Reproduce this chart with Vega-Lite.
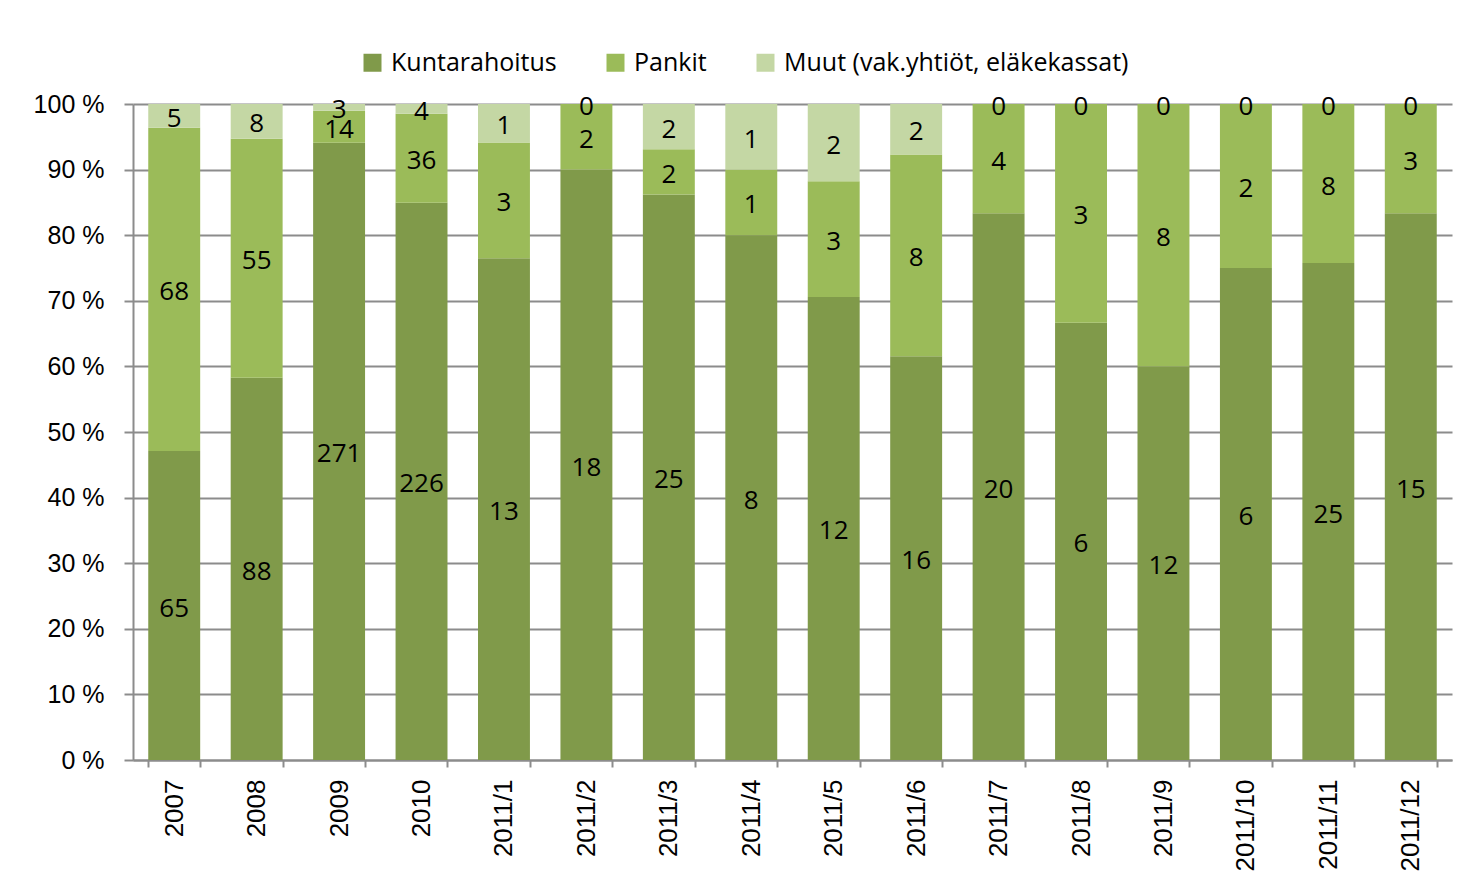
{
  "$schema": "https://vega.github.io/schema/vega-lite/v6.json",
  "width": 1319,
  "height": 656,
  "autosize": "none",
  "padding": {"left": 133, "top": 104, "right": 22, "bottom": 131},
  "background": "white",
  "config": {"view": {"stroke": null}},
  "data": {
    "values": [
      {"kausi": "2007", "sarja": "Kuntarahoitus", "arvo": 65},
      {"kausi": "2007", "sarja": "Pankit", "arvo": 68},
      {"kausi": "2007", "sarja": "Muut (vak.yhtiöt,  eläkekassat)", "arvo": 5},
      {"kausi": "2008", "sarja": "Kuntarahoitus", "arvo": 88},
      {"kausi": "2008", "sarja": "Pankit", "arvo": 55},
      {"kausi": "2008", "sarja": "Muut (vak.yhtiöt,  eläkekassat)", "arvo": 8},
      {"kausi": "2009", "sarja": "Kuntarahoitus", "arvo": 271},
      {"kausi": "2009", "sarja": "Pankit", "arvo": 14},
      {"kausi": "2009", "sarja": "Muut (vak.yhtiöt,  eläkekassat)", "arvo": 3},
      {"kausi": "2010", "sarja": "Kuntarahoitus", "arvo": 226},
      {"kausi": "2010", "sarja": "Pankit", "arvo": 36},
      {"kausi": "2010", "sarja": "Muut (vak.yhtiöt,  eläkekassat)", "arvo": 4},
      {"kausi": "2011/1", "sarja": "Kuntarahoitus", "arvo": 13},
      {"kausi": "2011/1", "sarja": "Pankit", "arvo": 3},
      {"kausi": "2011/1", "sarja": "Muut (vak.yhtiöt,  eläkekassat)", "arvo": 1},
      {"kausi": "2011/2", "sarja": "Kuntarahoitus", "arvo": 18},
      {"kausi": "2011/2", "sarja": "Pankit", "arvo": 2},
      {"kausi": "2011/2", "sarja": "Muut (vak.yhtiöt,  eläkekassat)", "arvo": 0},
      {"kausi": "2011/3", "sarja": "Kuntarahoitus", "arvo": 25},
      {"kausi": "2011/3", "sarja": "Pankit", "arvo": 2},
      {"kausi": "2011/3", "sarja": "Muut (vak.yhtiöt,  eläkekassat)", "arvo": 2},
      {"kausi": "2011/4", "sarja": "Kuntarahoitus", "arvo": 8},
      {"kausi": "2011/4", "sarja": "Pankit", "arvo": 1},
      {"kausi": "2011/4", "sarja": "Muut (vak.yhtiöt,  eläkekassat)", "arvo": 1},
      {"kausi": "2011/5", "sarja": "Kuntarahoitus", "arvo": 12},
      {"kausi": "2011/5", "sarja": "Pankit", "arvo": 3},
      {"kausi": "2011/5", "sarja": "Muut (vak.yhtiöt,  eläkekassat)", "arvo": 2},
      {"kausi": "2011/6", "sarja": "Kuntarahoitus", "arvo": 16},
      {"kausi": "2011/6", "sarja": "Pankit", "arvo": 8},
      {"kausi": "2011/6", "sarja": "Muut (vak.yhtiöt,  eläkekassat)", "arvo": 2},
      {"kausi": "2011/7", "sarja": "Kuntarahoitus", "arvo": 20},
      {"kausi": "2011/7", "sarja": "Pankit", "arvo": 4},
      {"kausi": "2011/7", "sarja": "Muut (vak.yhtiöt,  eläkekassat)", "arvo": 0},
      {"kausi": "2011/8", "sarja": "Kuntarahoitus", "arvo": 6},
      {"kausi": "2011/8", "sarja": "Pankit", "arvo": 3},
      {"kausi": "2011/8", "sarja": "Muut (vak.yhtiöt,  eläkekassat)", "arvo": 0},
      {"kausi": "2011/9", "sarja": "Kuntarahoitus", "arvo": 12},
      {"kausi": "2011/9", "sarja": "Pankit", "arvo": 8},
      {"kausi": "2011/9", "sarja": "Muut (vak.yhtiöt,  eläkekassat)", "arvo": 0},
      {"kausi": "2011/10", "sarja": "Kuntarahoitus", "arvo": 6},
      {"kausi": "2011/10", "sarja": "Pankit", "arvo": 2},
      {"kausi": "2011/10", "sarja": "Muut (vak.yhtiöt,  eläkekassat)", "arvo": 0},
      {"kausi": "2011/11", "sarja": "Kuntarahoitus", "arvo": 25},
      {"kausi": "2011/11", "sarja": "Pankit", "arvo": 8},
      {"kausi": "2011/11", "sarja": "Muut (vak.yhtiöt,  eläkekassat)", "arvo": 0},
      {"kausi": "2011/12", "sarja": "Kuntarahoitus", "arvo": 15},
      {"kausi": "2011/12", "sarja": "Pankit", "arvo": 3},
      {"kausi": "2011/12", "sarja": "Muut (vak.yhtiöt,  eläkekassat)", "arvo": 0}
    ]
  },
  "transform": [
    {"calculate": "indexof(['Kuntarahoitus','Pankit','Muut (vak.yhtiöt,  eläkekassat)'], datum.sarja)", "as": "jarj"},
    {"stack": "arvo", "groupby": ["kausi"], "sort": [{"field": "jarj", "order": "ascending"}], "offset": "normalize", "as": ["y0", "y1"]},
    {"calculate": "(datum.y0 + datum.y1) / 2", "as": "ymid"}
  ],
  "encoding": {
    "x": {
      "field": "kausi",
      "type": "nominal",
      "sort": null,
      "scale": {"paddingInner": 0.37, "paddingOuter": 0.185},
      "axis": {
        "title": null,
        "labelAngle": -90,
        "labelFont": "Liberation Sans",
        "labelFontSize": 26,
        "labelColor": "black",
        "labelPadding": 12,
        "tickSize": 7,
        "tickWidth": 2,
        "tickColor": "#8c8c8c",
        "tickBand": "extent",
        "domainColor": "#8c8c8c",
        "domainWidth": 2,
        "grid": false
      }
    }
  },
  "layer": [
    {
      "mark": {"type": "bar"},
      "encoding": {
        "y": {
          "field": "y0",
          "type": "quantitative",
          "scale": {"domain": [0, 1], "nice": false},
          "axis": {
            "title": null,
            "values": [0, 0.1, 0.2, 0.3, 0.4, 0.5, 0.6, 0.7, 0.8, 0.9, 1],
            "labelExpr": "format(datum.value * 100, 'd') + ' %'",
            "labelFont": "Liberation Sans",
            "labelFontSize": 25,
            "labelColor": "black",
            "labelPadding": 20,
            "tickSize": 9,
            "tickWidth": 2,
            "tickColor": "#8c8c8c",
            "domainColor": "#8c8c8c",
            "domainWidth": 2,
            "grid": true,
            "gridColor": "#8c8c8c",
            "gridWidth": 2
          }
        },
        "y2": {"field": "y1"},
        "color": {
          "field": "sarja",
          "type": "nominal",
          "scale": {
            "domain": ["Kuntarahoitus", "Pankit", "Muut (vak.yhtiöt,  eläkekassat)"],
            "range": ["#809a4a", "#9bbb59", "#c4d7a4"]
          },
          "legend": {
            "title": null,
            "orient": "none",
            "legendX": 227,
            "legendY": -54,
            "direction": "horizontal",
            "columns": 3,
            "columnPadding": 46,
            "padding": 0,
            "symbolType": "square",
            "symbolSize": 324,
            "symbolStrokeWidth": 0,
            "labelFont": "Open Sans",
            "labelFontSize": 25,
            "labelLimit": 0,
            "labelColor": "black",
            "labelOffset": 6
          }
        }
      }
    },
    {
      "mark": {"type": "text", "font": "Open Sans", "fontSize": 26, "color": "black", "baseline": "middle", "dy": 3},
      "encoding": {
        "y": {"field": "ymid", "type": "quantitative"},
        "text": {"field": "arvo", "type": "quantitative", "format": "d"}
      }
    }
  ]
}
